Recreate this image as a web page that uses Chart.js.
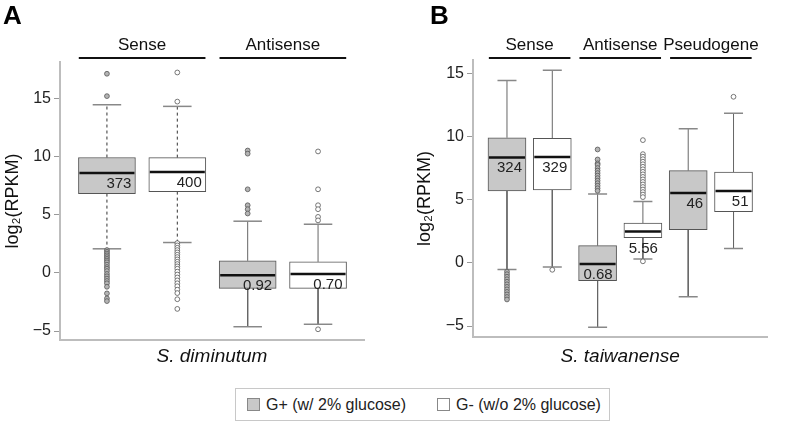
<!DOCTYPE html>
<html>
<head>
<meta charset="utf-8">
<script src="https://cdn.jsdelivr.net/npm/chart.js@4.4.1/dist/chart.umd.min.js"></script>
<style>
body{margin:0;background:#fff;width:788px;height:424px;position:relative;overflow:hidden;font-family:'Liberation Sans',Arial,sans-serif}
canvas{position:absolute;top:0}
#cA{left:0}
#cB{left:394px}
#legend{position:absolute;left:235px;top:388px;width:373px;height:31px;border:1px solid #c8c8c8;font-size:16px;color:#222}
.item{position:absolute;top:6px;line-height:20px;white-space:nowrap}
.sq{display:inline-block;width:11px;height:11px;border:1px solid #888;vertical-align:-1px;margin-right:6px}
</style>
</head>
<body>
<canvas id="cA" width="394" height="380"></canvas>
<canvas id="cB" width="394" height="380"></canvas>
<div id="legend">
  <span class="item" style="left:11px"><span class="sq" style="background:#c8c8c8"></span><span id="lg0"></span></span>
  <span class="item" style="left:201px"><span class="sq" style="background:#fff"></span><span id="lg1"></span></span>
</div>
<script>
const seriesNames = ['G+ (w/ 2% glucose)', 'G- (w/o 2% glucose)'];
const yTicks = [-5, 0, 5, 10, 15];

// panel A, S. diminutum (boxes: Sense G+, Sense G-, Antisense G+, Antisense G-)
const groupsA = ['Sense', 'Antisense'];
const q1A = [6.8, 6.97, -1.34, -1.34];
const medA = [8.57, 8.66, -0.2, -0.11];
const q3A = [9.9, 9.89, 1.03, 0.94];
const loA = [2.06, 2.6, -4.63, -4.42];
const hiA = [14.43, 14.29, 4.43, 4.17];
const countsA = ['373', '400', '0.92', '0.70'];
const outA = [
  [17.09, 15.17, 1.95, 1.8, 1.65, 1.5, 1.35, 1.2, 1.05, 0.9, 0.7, 0.5, 0.35, 0.15, -0.1, -0.3, -0.5, -0.7, -0.9, -1.2, -1.77, -2.2, -2.43],
  [17.2, 14.7, 2.55, 2.35, 2.15, 1.95, 1.75, 1.55, 1.35, 1.15, 0.95, 0.75, 0.55, 0.35, 0.1, -0.15, -0.4, -0.65, -0.9, -1.15, -1.45, -1.74, -2.27, -3.1],
  [10.5, 10.23, 7.17, 5.8, 5.46, 5.09],
  [10.42, 7.17, 5.8, 5.46, 4.8, 4.5, -4.85]
];

// panel B, S. taiwanense (Sense, Antisense, Pseudogene; G+ then G-)
const groupsB = ['Sense', 'Antisense', 'Pseudogene'];
const q1B = [5.68, 5.76, -1.42, 2.0, 2.63, 4.05];
const medB = [8.33, 8.38, -0.1, 2.47, 5.52, 5.68];
const q3B = [9.9, 9.86, 1.36, 3.15, 7.3, 7.18];
const loB = [-0.53, -0.34, -5.1, 0.31, -2.68, 1.13];
const hiB = [14.42, 15.24, 5.44, 4.86, 10.6, 11.83];
const countsB = ['324', '329', '0.68', '5.56', '46', '51'];
const outB = [
  [-0.7, -0.9, -1.1, -1.3, -1.5, -1.7, -1.9, -2.1, -2.3, -2.5, -2.7, -2.9],
  [-0.55],
  [8.97, 8.18, 7.87, 7.75, 7.5, 7.3, 7.1, 6.9, 6.7, 6.5, 6.3, 6.1, 5.9, 5.7],
  [9.71, 8.6, 8.4, 8.2, 8.0, 7.8, 7.6, 7.4, 7.2, 7.0, 6.8, 6.6, 6.4, 6.2, 6.0, 5.8, 5.6, 5.4, 5.2, 0.12],
  [],
  [13.14]
];

document.getElementById('lg0').textContent = seriesNames[0];
document.getElementById('lg1').textContent = seriesNames[1];

Chart.defaults.font.family = "'Liberation Sans', Arial, sans-serif";

const fills = ['#c8c8c8', '#ffffff'];
const dotFills = ['#b4b4b4', '#ffffff'];

const decor = {
  id: 'decor',
  afterDraw(chart, args, o) {
    const {ctx} = chart;
    const x = chart.scales.x, y = chart.scales.y;
    ctx.save();
    ctx.fillStyle = '#000';
    ctx.font = "bold 26px 'Liberation Sans'";
    ctx.textAlign = 'left';
    ctx.textBaseline = 'alphabetic';
    ctx.fillText(o.letter, o.letterX, 24);

    ctx.font = "17px 'Liberation Sans'";
    ctx.textAlign = 'center';
    o.groups.forEach((g, k) => {
      const a = x.getPixelForValue(2 * k - 0.4);
      const b = x.getPixelForValue(2 * k + 1.4);
      ctx.fillStyle = '#111';
      ctx.fillText(g, (a + b) / 2, 50);
      ctx.strokeStyle = '#111';
      ctx.lineWidth = 2;
      ctx.beginPath();
      ctx.moveTo(a, 58);
      ctx.lineTo(b, 58);
      ctx.stroke();
    });

    ctx.font = "15px 'Liberation Sans'";
    ctx.textAlign = 'right';
    ctx.textBaseline = 'top';
    ctx.fillStyle = '#222';
    o.labels.forEach((t, i) => {
      const right = x.getPixelForValue(i) + o.boxW / 2 - 4;
      const pm = y.getPixelForValue(o.med[i]);
      const pq = y.getPixelForValue(o.q1[i]);
      const top = (pq - pm < 10) ? pq + 4 : pm + 3;
      ctx.fillText(t, right, top);
    });
    ctx.restore();
  }
};

function makePanel(id, p) {
  const n = p.q1.length;
  const datasets = [];
  for (let i = 0; i < n; i++) {
    const dashed = p.dashedGroup === Math.floor(i / 2);
    datasets.push({
      type: 'scatter', showLine: true, spanGaps: false,
      data: [{x: i, y: p.q3[i]}, {x: i, y: p.hi[i]}, {x: i, y: null}, {x: i, y: p.q1[i]}, {x: i, y: p.lo[i]}],
      borderColor: dashed ? '#333' : '#666', borderWidth: 1, borderDash: dashed ? [3, 3] : [],
      pointRadius: 0, order: 5
    });
  }
  const caps = [];
  for (let i = 0; i < n; i++) { caps.push({x: i, y: p.hi[i]}, {x: i, y: p.lo[i]}); }
  datasets.push({
    type: 'scatter', data: caps, pointStyle: 'line', pointRadius: p.boxW / 4,
    pointBorderColor: '#888', pointBorderWidth: 1.5, order: 4
  });
  datasets.push({
    type: 'bar',
    data: p.q1.map((v, i) => ({x: i, y: [v, p.q3[i]]})),
    backgroundColor: p.q1.map((v, i) => fills[i % 2]),
    borderColor: '#555', borderWidth: 1, borderSkipped: false,
    barThickness: p.boxW, order: 2
  });
  const pts = [], pcol = [];
  p.out.forEach((arr, i) => arr.forEach(v => { pts.push({x: i, y: v}); pcol.push(dotFills[i % 2]); }));
  datasets.push({
    type: 'scatter', data: pts, pointRadius: 2.4, pointBackgroundColor: pcol,
    pointBorderColor: '#555', pointBorderWidth: 0.8, order: 1
  });
  datasets.push({
    type: 'scatter', data: p.med.map((v, i) => ({x: i, y: v})),
    pointStyle: 'line', pointRadius: p.boxW / 2 - 1,
    pointBorderColor: '#111', pointBorderWidth: 2.5, order: 0
  });

  return new Chart(document.getElementById(id), {
    type: 'bar',
    data: {datasets},
    plugins: [decor],
    options: {
      responsive: false, animation: false, devicePixelRatio: 1, events: [],
      layout: {padding: p.pad},
      plugins: {
        legend: {display: false}, tooltip: {enabled: false},
        decor: {letter: p.letter, letterX: p.letterX, groups: p.groups, labels: p.labels, med: p.med, q1: p.q1, boxW: p.boxW}
      },
      scales: {
        x: {
          type: 'linear', min: p.xMin, max: p.xMax, offset: false,
          ticks: {display: false}, grid: {display: false},
          border: {display: true, color: '#bdbdbd', width: 2},
          title: {display: true, text: p.species, color: '#111', font: {size: 19, style: 'italic'}, padding: {top: 0, bottom: p.titlePad}},
          afterFit: s => { s.height = p.xH; }
        },
        y: {
          type: 'linear', min: p.yMin, max: p.yMax,
          afterBuildTicks: s => { s.ticks = yTicks.map(v => ({value: v})); },
          ticks: {font: {size: 16}, color: '#222', padding: 3, callback: v => v < 0 ? '\u2212' + (-v) : String(v)},
          grid: {drawOnChartArea: false, tickLength: 6, color: '#999'},
          border: {color: '#bdbdbd', width: 2},
          title: {display: true, text: 'log\u2082(RPKM)', color: '#111', font: {size: 18}, padding: {top: 2, bottom: 0}},
          afterFit: s => { s.width = p.yW; }
        }
      }
    }
  });
}

makePanel('cA', {
  letter: 'A', letterX: 3, species: 'S. diminutum', groups: groupsA,
  q1: q1A, med: medA, q3: q3A, lo: loA, hi: hiA, labels: countsA, out: outA,
  dashedGroup: 0, boxW: 57, xMin: -0.667, xMax: 3.653, yMin: -5.77, yMax: 18.1,
  pad: {left: 0, top: 62, right: 23, bottom: 0}, yW: 60, xH: 40, titlePad: 12
});
makePanel('cB', {
  letter: 'B', letterX: 36, species: 'S. taiwanense', groups: groupsB,
  q1: q1B, med: medB, q3: q3B, lo: loB, hi: hiB, labels: countsB, out: outB,
  dashedGroup: -1, boxW: 38, xMin: -0.75, xMax: 5.75, yMin: -5.87, yMax: 16.05,
  pad: {left: 18, top: 60, right: 3, bottom: 0}, yW: 61, xH: 43, titlePad: 12
});
</script>
</body>
</html>
